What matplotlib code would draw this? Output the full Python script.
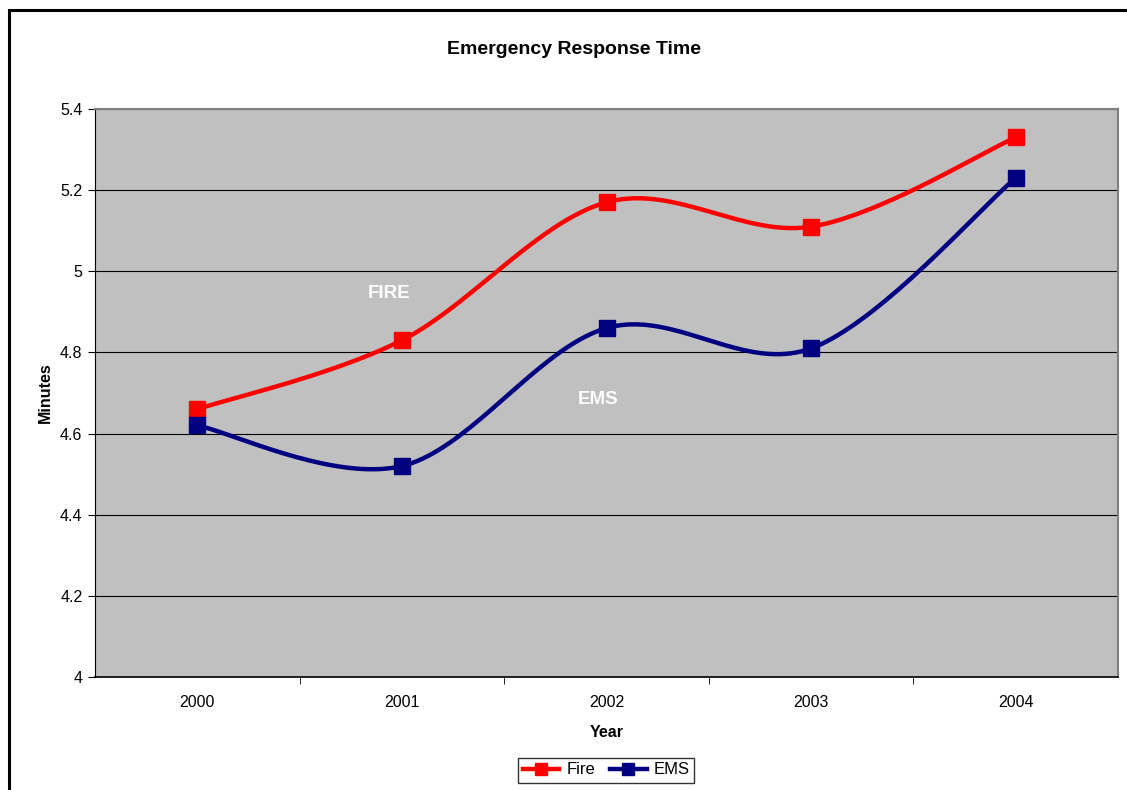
import numpy as np
import matplotlib
matplotlib.use("Agg")
import matplotlib.pyplot as plt
from matplotlib.patches import Rectangle

plt.rcParams['font.family'] = ['Liberation Sans', 'DejaVu Sans']

years = ['2000', '2001', '2002', '2003', '2004']
fire = [4.66, 4.83, 5.17, 5.11, 5.33]
ems = [4.62, 4.52, 4.86, 4.81, 5.23]
yticks = [4, 4.2, 4.4, 4.6, 4.8, 5, 5.2, 5.4]
ytick_labels = ['4', '4.2', '4.4', '4.6', '4.8', '5', '5.2', '5.4']


def smooth(xs, ys, n=40):
    # Catmull-Rom style cubic Bezier smoothing (like spreadsheet smoothed lines)
    xs = np.asarray(xs, float); ys = np.asarray(ys, float)
    P = np.column_stack([xs, ys])
    out = []
    for i in range(len(P) - 1):
        p0 = P[i - 1] if i > 0 else P[i]
        p1 = P[i]; p2 = P[i + 1]
        p3 = P[i + 2] if i + 2 < len(P) else P[i + 1]
        c1 = p1 + (p2 - p0) / 6.0
        c2 = p2 - (p3 - p1) / 6.0
        t = np.linspace(0, 1, n)[:, None]
        seg = ((1 - t) ** 3) * p1 + 3 * ((1 - t) ** 2) * t * c1 + 3 * (1 - t) * t ** 2 * c2 + t ** 3 * p2
        out.append(seg if i == 0 else seg[1:])
    s = np.vstack(out)
    return s[:, 0], s[:, 1]


fig = plt.figure(figsize=(11.27, 7.9), dpi=100)
fig.patches.append(Rectangle((8.5 / 1127, -0.1), 1.2, (790 - 9.5) / 790 + 0.1,
                             transform=fig.transFigure, fill=False,
                             edgecolor='black', linewidth=2.2, zorder=0))

ax = fig.add_axes([95 / 1127, 1 - 677 / 790, (1118 - 95) / 1127, (677 - 109) / 790])
ax.set_facecolor('#c0c0c0')

x = np.arange(len(years))
red = '#ff0000'
navy = '#000080'
for vals, col in [(fire, red), (ems, navy)]:
    sx, sy = smooth(x, vals)
    ax.plot(sx, sy, color=col, linewidth=3.2, solid_capstyle='round', zorder=3)
    ax.plot(x, vals, linestyle='none', marker='s', markersize=12, color=col, zorder=4)

# legend handles
h1, = ax.plot([], [], color=red, linewidth=3.2, marker='s', markersize=9)
h2, = ax.plot([], [], color=navy, linewidth=3.2, marker='s', markersize=9)

ax.set_xlim(-0.5, len(years) - 0.5)
ax.set_ylim(4, 5.4)
ax.set_yticks(yticks)
ax.set_yticklabels(ytick_labels, fontsize=11.5)
ax.set_xticks(x)
ax.set_xticklabels(years, fontsize=11.5)
ax.tick_params(axis='x', length=0, pad=13)
ax.set_xticks(np.arange(0.5, len(years) - 0.5, 1), minor=True)
ax.tick_params(axis='x', which='minor', length=5, color='black', direction='out')
ax.tick_params(axis='y', length=5, direction='out', pad=4)

ax.grid(axis='y', color='black', linewidth=0.8)
ax.set_axisbelow(True)
for s in ['top', 'right']:
    ax.spines[s].set_color('#808080')
    ax.spines[s].set_linewidth(1.5)
ax.spines['left'].set_color('black')
ax.spines['bottom'].set_color('black')
ax.spines['bottom'].set_linewidth(1.2)

ax.set_xlabel('Year', fontsize=11.5, fontweight='bold', labelpad=11)
ax.set_ylabel('Minutes', fontsize=11.5, fontweight='bold', labelpad=5)
fig.text(574 / 1127, 1 - 49 / 790, 'Emergency Response Time', ha='center', va='center',
         fontsize=14, fontweight='bold')

ax.text(0.937, 4.946, 'FIRE', color='white', fontsize=13.5, fontweight='bold',
        ha='center', va='center')
ax.text(1.958, 4.685, 'EMS', color='white', fontsize=13.5, fontweight='bold',
        ha='center', va='center')

leg = fig.legend([h1, h2], ['Fire', 'EMS'], loc='center',
                 bbox_to_anchor=(606 / 1127, 1 - 770 / 790), ncol=2, fontsize=12,
                 frameon=True, fancybox=False, edgecolor='black', handlelength=2.2,
                 columnspacing=0.9, handletextpad=0.4, borderpad=0.3, borderaxespad=0.2)
leg.get_frame().set_linewidth(1.0)

fig.savefig('out.png', dpi=100)
